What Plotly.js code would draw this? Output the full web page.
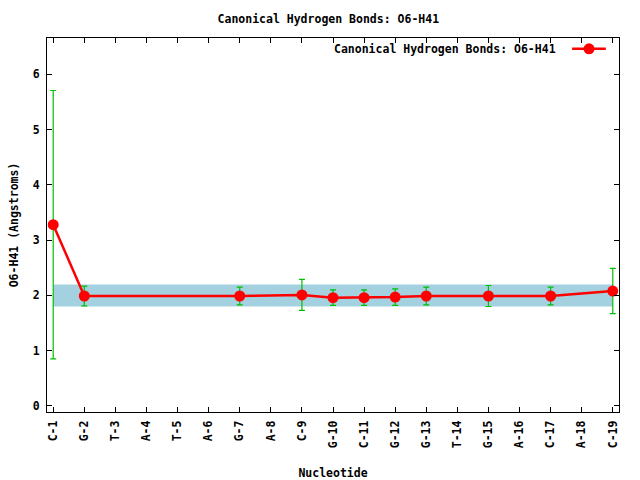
<!DOCTYPE html>
<html>
<head>
<meta charset="utf-8">
<script src="https://cdn.plot.ly/plotly-3.0.1.min.js"></script>
<style>html,body{margin:0;padding:0;background:#fff;}#chart{width:640px;height:480px;}</style>
</head>
<body>
<div id="chart"></div>
<script>
var categories = ["C-1","G-2","T-3","A-4","T-5","A-6","G-7","A-8","C-9","G-10","C-11","G-12","G-13","T-14","G-15","A-16","C-17","A-18","C-19"];
var pointLabels = ["C-1","G-2","G-7","C-9","G-10","C-11","G-12","G-13","G-15","C-17","C-19"];
var distances = [3.28, 1.99, 1.99, 2.01, 1.96, 1.96, 1.97, 1.99, 1.99, 1.99, 2.08];
var errors = [2.43, 0.18, 0.16, 0.28, 0.14, 0.14, 0.15, 0.16, 0.19, 0.16, 0.41];
var bandLow = 1.8;
var bandHigh = 2.2;
var yTicks = [0, 1, 2, 3, 4, 5, 6];
var seriesName = "Canonical Hydrogen Bonds: O6-H41";

var FONT = {family: "DejaVu Sans Mono", size: 11.5, color: "#000", weight: "bold"};

var first = categories[0], last = categories[categories.length - 1];
var band = {
  x: [first, last, last, first],
  y: [bandLow, bandLow, bandHigh, bandHigh],
  type: "scatter", mode: "lines", fill: "toself",
  fillcolor: "#a3d1df", line: {width: 0, color: "#a3d1df"},
  hoverinfo: "skip", showlegend: false
};
var series = {
  x: pointLabels, y: distances,
  type: "scatter", mode: "lines+markers",
  name: seriesName,
  line: {color: "#ff0000", width: 2.5},
  marker: {color: "#ff0000", size: 11, symbol: "circle"},
  error_y: {type: "data", array: errors, visible: true, color: "#00c000", thickness: 1.2, width: 3},
  showlegend: false
};

var layout = {
  width: 640, height: 480,
  margin: {l: 47, r: 21, t: 38, b: 68},
  paper_bgcolor: "#fff", plot_bgcolor: "#fff",
  font: FONT,
  showlegend: false,
  title: {text: seriesName, font: FONT, x: 0.513, xref: "container", xanchor: "center", y: 1 - 19/480, yref: "container", yanchor: "middle"},
  xaxis: {
    type: "category", categoryorder: "array", categoryarray: categories,
    range: [-0.2, 18.2],
    tickvals: categories, ticktext: categories,
    tickangle: -90, tickfont: FONT, ticklabelstandoff: 3,
    ticks: "inside", ticklen: 5, tickcolor: "#000", tickwidth: 1,
    showline: true, linecolor: "#000", linewidth: 1, mirror: "allticks",
    showgrid: false, zeroline: false,
    title: {text: "Nucleotide", font: FONT, standoff: 22},
    automargin: false
  },
  yaxis: {
    range: [-0.11, 6.66],
    tickvals: yTicks, ticktext: yTicks.map(String),
    tickfont: FONT, ticklabelstandoff: 4,
    ticks: "inside", ticklen: 5, tickcolor: "#000", tickwidth: 1,
    showline: true, linecolor: "#000", linewidth: 1, mirror: "allticks",
    showgrid: false, zeroline: false,
    title: {text: "O6-H41 (Angstroms)", font: FONT, standoff: 11},
    automargin: false
  },
  annotations: [{
    xref: "paper", yref: "paper", x: 0.893, y: 0.971, xanchor: "right", yanchor: "middle",
    text: seriesName, showarrow: false, font: FONT
  }],
  shapes: [
    {type: "line", xref: "paper", yref: "paper", x0: 0.918, x1: 0.977, y0: 0.971, y1: 0.971, line: {color: "#ff0000", width: 2.5}},
    {type: "circle", xref: "paper", yref: "paper", xsizemode: "pixel", ysizemode: "pixel",
     xanchor: 0.9476, yanchor: 0.971, x0: -5.5, x1: 5.5, y0: -5.5, y1: 5.5,
     fillcolor: "#ff0000", line: {color: "#ff0000", width: 0}}
  ]
};

Plotly.newPlot("chart", [band, series], layout, {displayModeBar: false, staticPlot: true});
</script>
</body>
</html>
